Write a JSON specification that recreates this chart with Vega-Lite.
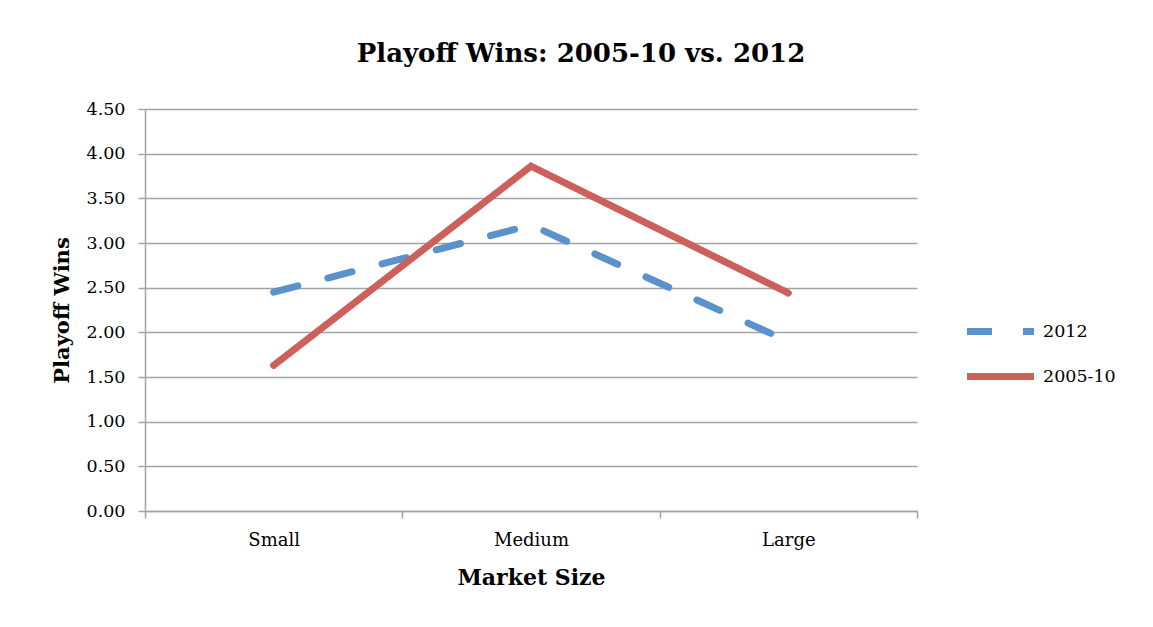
{
  "$schema": "https://vega.github.io/schema/vega-lite/v6.json",
  "width": 772,
  "height": 402,
  "autosize": {"type": "none"},
  "padding": {"left": 145, "top": 109, "right": 236, "bottom": 116},
  "background": "white",
  "config": {"view": {"stroke": null}},
  "title": {
    "text": "Playoff Wins: 2005-10 vs. 2012",
    "font": "DejaVu Serif",
    "fontSize": 26,
    "fontWeight": "bold",
    "color": "black",
    "anchor": "middle",
    "dx": 50,
    "offset": 33
  },
  "data": {
    "values": [
      {"size": "Small", "series": "2012", "wins": 2.45},
      {"size": "Medium", "series": "2012", "wins": 3.2},
      {"size": "Large", "series": "2012", "wins": 1.9},
      {"size": "Small", "series": "2005-10", "wins": 1.63},
      {"size": "Medium", "series": "2005-10", "wins": 3.86},
      {"size": "Large", "series": "2005-10", "wins": 2.44}
    ]
  },
  "mark": {"type": "line", "strokeWidth": 7, "strokeCap": "round", "strokeJoin": "miter"},
  "encoding": {
    "x": {
      "field": "size",
      "type": "nominal",
      "sort": ["Small", "Medium", "Large"],
      "scale": {"type": "band", "paddingInner": 0, "paddingOuter": 0},
      "title": "Market Size",
      "axis": {
        "labelAngle": 0,
        "labelFont": "DejaVu Serif",
        "labelFontSize": 18,
        "labelColor": "black",
        "labelPadding": 13,
        "tickBand": "extent",
        "tickSize": 7,
        "tickColor": "#a3a3a3",
        "tickWidth": 1.5,
        "domainColor": "#a3a3a3",
        "domainWidth": 1.5,
        "grid": false,
        "titleFont": "DejaVu Serif",
        "titleFontSize": 22,
        "titleFontWeight": "bold",
        "titleColor": "black",
        "titlePadding": 18
      }
    },
    "y": {
      "field": "wins",
      "type": "quantitative",
      "scale": {"domain": [0, 4.5], "nice": false},
      "title": "Playoff Wins",
      "axis": {
        "values": [0, 0.5, 1, 1.5, 2, 2.5, 3, 3.5, 4, 4.5],
        "format": ".2f",
        "labelFont": "DejaVu Serif",
        "labelFontSize": 17.5,
        "labelColor": "black",
        "labelPadding": 13,
        "tickSize": 7,
        "tickColor": "#a3a3a3",
        "tickWidth": 1.5,
        "domainColor": "#a3a3a3",
        "domainWidth": 1.5,
        "grid": true,
        "gridColor": "#a3a3a3",
        "gridWidth": 1.5,
        "titleFont": "DejaVu Serif",
        "titleFontSize": 21,
        "titleFontWeight": "bold",
        "titleColor": "black",
        "titlePadding": 14
      }
    },
    "color": {
      "field": "series",
      "type": "nominal",
      "scale": {"domain": ["2012", "2005-10"], "range": ["#5A92CB", "#CB615A"]},
      "legend": {
        "orient": "none",
        "legendX": 835,
        "legendY": 202,
        "title": null,
        "symbolType": "M-2,0H2",
        "symbolSize": 1122,
        "symbolStrokeWidth": 7,
        "rowPadding": 10,
        "labelFont": "DejaVu Serif",
        "labelFontSize": 17.5,
        "labelColor": "black",
        "labelOffset": 22
      }
    },
    "strokeDash": {
      "field": "series",
      "type": "nominal",
      "scale": {"domain": ["2012", "2005-10"], "range": [[25, 31], [1, 0]]},
      "legend": {
        "orient": "none",
        "legendX": 835,
        "legendY": 202,
        "title": null,
        "symbolType": "M-2,0H2",
        "symbolSize": 1122,
        "symbolStrokeWidth": 7,
        "rowPadding": 10,
        "labelFont": "DejaVu Serif",
        "labelFontSize": 17.5,
        "labelColor": "black",
        "labelOffset": 22
      }
    }
  }
}
